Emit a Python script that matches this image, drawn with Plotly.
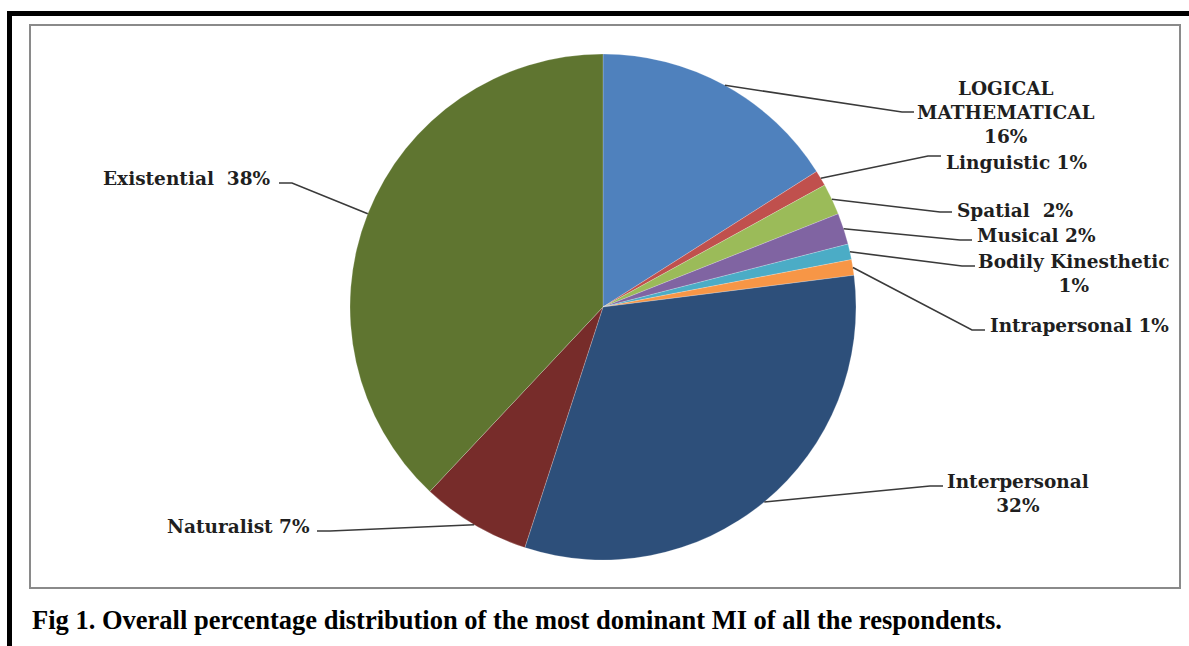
import math
import plotly.graph_objects as go

# Dominant multiple intelligence of respondents (percent)
categories = ["LOGICAL MATHEMATICAL", "Linguistic", "Spatial", "Musical",
              "Bodily Kinesthetic", "Intrapersonal", "Interpersonal",
              "Naturalist", "Existential"]
percentages = [16, 1, 2, 2, 1, 1, 32, 7, 38]
label_texts = ["LOGICAL<br>MATHEMATICAL<br>16%", "Linguistic 1%", "Spatial  2%",
               "Musical 2%", "Bodily Kinesthetic<br>1%", "Intrapersonal 1%",
               "Interpersonal<br>32%", "Naturalist 7%", "Existential  38%"]
slice_colors = ["#4F81BD", "#C0504D", "#9BBB59", "#8064A2", "#4BACC6",
                "#F79646", "#2D4F7A", "#772C2A", "#5F7530"]

W, H = 1189, 646
CX, CY, R = 603, 307, 253


def px(x):
    return x / W


def py(y):
    return 1 - y / H


fig = go.Figure()
fig.add_trace(go.Pie(
    labels=categories, values=percentages, sort=False,
    direction="clockwise", rotation=0, textinfo="none",
    marker=dict(colors=slice_colors, line=dict(color="rgba(255,255,255,0.35)", width=0.6)),
    domain=dict(x=[px(CX - R), px(CX + R)], y=[py(CY + R), py(CY - R)]),
    showlegend=False, hoverinfo="label+percent",
))

# label placement: (text x, text y, xanchor, elbow x, end x, end y)
label_layout = [
    (1006, 112, "center", 902, 914, 112),
    (944, 162, "left", 928, 941, 156),
    (955, 210, "left", 940, 952, 212),
    (975, 235, "left", 960, 972, 240),
    (1074, 273, "center", 962, 975, 266),
    (988, 325, "left", 972, 985, 330),
    (1018, 494, "center", 930, 943, 486),
    (312, 526, "right", 330, 317, 531),
    (273, 178, "right", 292, 279, 183),
]

total = sum(percentages)
shapes = []
annotations = []
cum = 0.0
for val, txt, (tx, ty, anchor, elx, ex, ey) in zip(percentages, label_texts, label_layout):
    mid = (cum + val / 2) / total
    cum += val
    ang = 2 * math.pi * mid
    sx = CX + R * math.sin(ang)
    sy = CY - R * math.cos(ang)
    path = f"M {px(sx)} {py(sy)} L {px(elx)} {py(ey)} L {px(ex)} {py(ey)}"
    shapes.append(dict(type="path", xref="paper", yref="paper", path=path,
                       line=dict(color="#3a3a3a", width=1.6)))
    annotations.append(dict(
        text=txt, x=px(tx), y=py(ty), xref="paper", yref="paper",
        xanchor=anchor, yanchor="middle", showarrow=False, align="center",
        font=dict(family="DejaVu Serif", size=18.5,
                  color="#1f1f1f", weight="bold"),
    ))

# outer black frame (top and left)
shapes.append(dict(type="line", xref="paper", yref="paper",
                   x0=px(7), x1=px(W), y0=py(13.5), y1=py(13.5),
                   line=dict(color="black", width=5)))
shapes.append(dict(type="line", xref="paper", yref="paper",
                   x0=px(9.5), x1=px(9.5), y0=py(11), y1=py(H),
                   line=dict(color="black", width=5)))
# chart area border
shapes.append(dict(type="rect", xref="paper", yref="paper",
                   x0=px(30), x1=px(1180), y0=py(588), y1=py(25),
                   line=dict(color="#8a8a8a", width=2), layer="below"))

annotations.append(dict(
    text="<b>Fig 1. Overall percentage distribution of the most dominant MI of all the respondents.</b>",
    x=px(30), y=py(620), xref="paper", yref="paper", xanchor="left",
    yanchor="middle", showarrow=False,
    font=dict(family="Liberation Serif", size=26.5, color="black"),
))

fig.update_layout(
    width=W, height=H, margin=dict(l=0, r=0, t=0, b=0),
    paper_bgcolor="white", plot_bgcolor="white",
    shapes=shapes, annotations=annotations,
)

fig.write_html("out.html")
